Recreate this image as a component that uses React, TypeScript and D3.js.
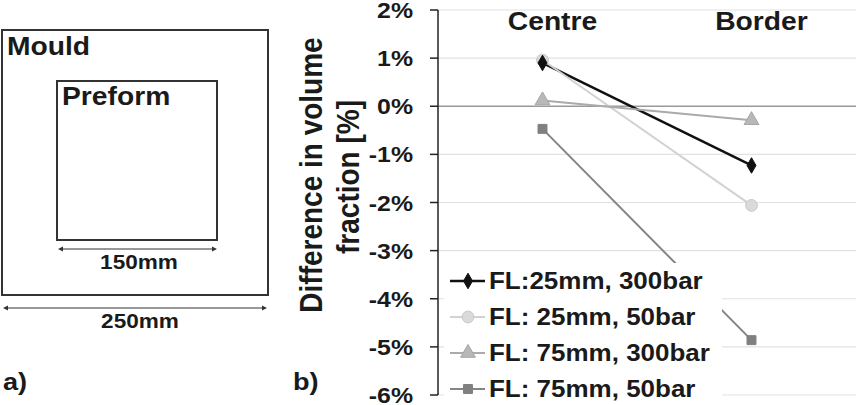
import React from 'react';
import * as d3 from 'd3';

// Panel b) data: difference in volume fraction (%) at the two positions
const categories = ['Centre', 'Border'];
const seriesNames = ['FL:25mm, 300bar', 'FL: 25mm, 50bar', 'FL: 75mm, 300bar', 'FL: 75mm, 50bar'];
const fl25bar300 = [0.9, -1.23];
const fl25bar50 = [0.96, -2.06];
const fl75bar300 = [0.12, -0.29];
const fl75bar50 = [-0.47, -4.86];
const yTicks = [2, 1, 0, -1, -2, -3, -4, -5, -6];

const W = 856;
const H = 405;
const FONT = '"Liberation Sans", Arial, sans-serif';
const SX = 1.13; // the source image is slightly stretched horizontally

const styles = [
  { color: '#111', marker: '#111', stroke: '#111', width: 2.5, shape: d3.symbolDiamond, size: 70 },
  { color: '#d2d2d2', marker: '#dadada', stroke: '#c8c8c8', width: 2, shape: d3.symbolCircle, size: 110 },
  { color: '#aaa', marker: '#b8b8b8', stroke: '#a5a5a5', width: 2, shape: d3.symbolTriangle, size: 95 },
  { color: '#858585', marker: '#808080', stroke: '#808080', width: 2, shape: d3.symbolSquare, size: 80 },
];

function Txt({ x, y, size, anchor = 'start', children }: any) {
  return (
    <text transform={`translate(${x},${y}) scale(${SX},1)`} fontSize={size} fontWeight="bold"
      fontFamily={FONT} fill="#1a1a1a" textAnchor={anchor}>{children}</text>
  );
}

function Arrow({ x1, x2, y }: any) {
  return (
    <g stroke="#333" fill="#333">
      <line x1={x1 + 3} x2={x2 - 3} y1={y} y2={y} strokeWidth={1.2} />
      <path d={`M${x1},${y}l5,-2.5v5z`} stroke="none" />
      <path d={`M${x2},${y}l-5,-2.5v5z`} stroke="none" />
    </g>
  );
}

export default function App() {
  const series = [fl25bar300, fl25bar50, fl75bar300, fl75bar50];
  const axisX = 438;
  const x = d3.scaleBand().domain(categories).range([axisX, W]).padding(0);
  const cx = (c: string) => (x(c) as number) + x.bandwidth() / 2;
  const y = d3.scaleLinear().domain([-6, 2]).range([395, 10]);
  const line = d3.line<number>().x((_, i) => cx(categories[i])).y(d => y(d));

  const legendX = 450;
  const legendY = [289, 325, 361, 397];

  return (
    <svg width={W} height={H} style={{ position: 'absolute', left: 0, top: 0, background: '#fff' }}>
      {/* a) mould sketch */}
      <rect x={2} y={30} width={266} height={265} fill="none" stroke="#333" strokeWidth={2} />
      <rect x={57} y={81} width={160} height={159} fill="none" stroke="#333" strokeWidth={2} />
      <Txt x={7} y={55} size={25}>Mould</Txt>
      <Txt x={62} y={105} size={25}>Preform</Txt>
      <Arrow x1={58} x2={217} y={249} />
      <Txt x={139} y={269} size={20} anchor="middle">150mm</Txt>
      <Arrow x1={3} x2={267} y={308} />
      <Txt x={140} y={328} size={20} anchor="middle">250mm</Txt>
      <Txt x={3} y={390} size={24}>a)</Txt>
      <Txt x={293} y={390} size={24}>b)</Txt>

      {/* b) grid */}
      {yTicks.map(t => (
        <line key={'g' + t} x1={axisX} x2={W} y1={y(t)} y2={y(t)}
          stroke={t === 0 ? '#9a9a9a' : '#e2e2e2'} strokeWidth={t === 0 ? 1.5 : 1.2} />
      ))}

      {/* series lines */}
      {series.map((s, i) => (
        <path key={'l' + i} d={line(s) || ''} fill="none" stroke={styles[i].color} strokeWidth={styles[i].width} />
      ))}

      {/* legend box hides part of the lines */}
      <rect x={444} y={263} width={278} height={H - 263} fill="#fff" />

      {/* markers, drawn back to front */}
      {[3, 2, 1, 0].map(i => series[i].map((v, j) => (
        <path key={`m${i}-${j}`} transform={`translate(${cx(categories[j])},${y(v)})`}
          d={d3.symbol().type(styles[i].shape).size(styles[i].size)() || ''}
          fill={styles[i].marker} stroke={styles[i].stroke} strokeWidth={1} />
      )))}

      {/* y axis */}
      <line x1={axisX} x2={axisX} y1={y(2)} y2={y(-6)} stroke="#222" strokeWidth={1.5} />
      {yTicks.map(t => (
        <g key={'t' + t}>
          <line x1={axisX - 8} x2={axisX} y1={y(t)} y2={y(t)} stroke="#222" strokeWidth={1.5} />
          <Txt x={413} y={y(t) + 8} size={22} anchor="end">{`${t}%`}</Txt>
        </g>
      ))}

      {/* y title */}
      <text transform="translate(322,175) rotate(-90) scale(1,1.13)" fontSize={28} fontWeight="bold"
        fontFamily={FONT} fill="#1a1a1a" textAnchor="middle">Difference in volume</text>
      <text transform="translate(359,177) rotate(-90) scale(1,1.13)" fontSize={28} fontWeight="bold"
        fontFamily={FONT} fill="#1a1a1a" textAnchor="middle">fraction [%]</text>

      {/* category labels */}
      {categories.map(c => (
        <Txt key={c} x={cx(c) + 10} y={30} size={25} anchor="middle">{c}</Txt>
      ))}

      {/* legend */}
      {seriesNames.map((n, i) => (
        <g key={n}>
          <line x1={legendX} x2={legendX + 35} y1={legendY[i] - 8} y2={legendY[i] - 8}
            stroke={styles[i].color} strokeWidth={styles[i].width} />
          <path transform={`translate(${legendX + 18},${legendY[i] - 8})`}
            d={d3.symbol().type(styles[i].shape).size(styles[i].size)() || ''}
            fill={styles[i].marker} stroke={styles[i].stroke} strokeWidth={1} />
          <Txt x={legendX + 39} y={legendY[i]} size={23}>{n}</Txt>
        </g>
      ))}
    </svg>
  );
}
